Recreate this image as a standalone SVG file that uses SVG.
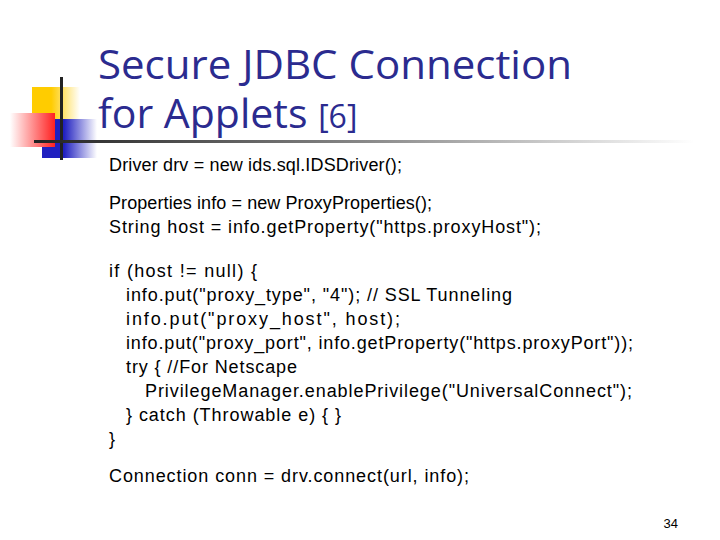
<svg xmlns="http://www.w3.org/2000/svg" width="720" height="540" viewBox="0 0 720 540">
<defs>
<linearGradient id="gy" x1="0" x2="1"><stop offset="0.4" stop-color="#ffcc00"/><stop offset="1" stop-color="#fff"/></linearGradient>
<linearGradient id="gr" x1="0" x2="1"><stop offset="0" stop-color="#fff"/><stop offset="1" stop-color="#ff2020"/></linearGradient>
<linearGradient id="gb" x1="0" x2="1"><stop offset="0.4" stop-color="#2020c0"/><stop offset="1" stop-color="#fff"/></linearGradient>
<linearGradient id="gl" x1="0" x2="1"><stop offset="0" stop-color="#222"/><stop offset="0.5" stop-color="#888"/><stop offset="1" stop-color="#fff"/></linearGradient>
<style>.t{font-family:"Liberation Sans",Arial,sans-serif;font-size:18px;fill:#000}</style>
</defs>
<rect width="720" height="540" fill="#fff"/>
<g id="logo">
<rect x="32" y="87" width="48" height="34" fill="url(#gy)"/>
<rect x="42" y="119" width="55" height="39" fill="url(#gb)"/>
<rect x="10" y="113" width="45" height="34" fill="url(#gr)"/>
<rect x="60" y="77" width="3" height="83" fill="#222"/>
<rect x="34" y="140" width="660" height="3" fill="url(#gl)"/>
</g>
<g id="title" font-family="'Open Sans','Liberation Sans',sans-serif" fill="#2b2b8f">
<text x="98" y="79" font-size="41" textLength="474" lengthAdjust="spacingAndGlyphs">Secure JDBC Connection</text>
<text x="98" y="128" font-size="41">for Applets <tspan font-size="32">[6]</tspan></text>
</g>
<g id="body" class="t">
<text class="t" x="109" y="171" textLength="293" lengthAdjust="spacing">Driver drv = new ids.sql.IDSDriver();</text>
<text class="t" x="109" y="209" textLength="323" lengthAdjust="spacing">Properties info = new ProxyProperties();</text>
<text class="t" x="109" y="233" textLength="432" lengthAdjust="spacing">String host = info.getProperty("https.proxyHost");</text>
<text class="t" x="109" y="277" textLength="148" lengthAdjust="spacing">if (host != null) {</text>
<text class="t" x="126" y="301" textLength="386" lengthAdjust="spacing">info.put("proxy_type", "4"); // SSL Tunneling</text>
<text class="t" x="126" y="325" textLength="274" lengthAdjust="spacing">info.put("proxy_host", host);</text>
<text class="t" x="126" y="349" textLength="507" lengthAdjust="spacing">info.put("proxy_port", info.getProperty("https.proxyPort"));</text>
<text class="t" x="126" y="373" textLength="171" lengthAdjust="spacing">try { //For Netscape</text>
<text class="t" x="145" y="397" textLength="487" lengthAdjust="spacing">PrivilegeManager.enablePrivilege("UniversalConnect");</text>
<text class="t" x="126" y="421" textLength="215" lengthAdjust="spacing">} catch (Throwable e) { }</text>
<text class="t" x="109" y="445">}</text>
<text class="t" x="109" y="482" textLength="360" lengthAdjust="spacing">Connection conn = drv.connect(url, info);</text>
</g>
<text x="678" y="528" font-family="'Liberation Sans',sans-serif" font-size="13" text-anchor="end">34</text>
</svg>
